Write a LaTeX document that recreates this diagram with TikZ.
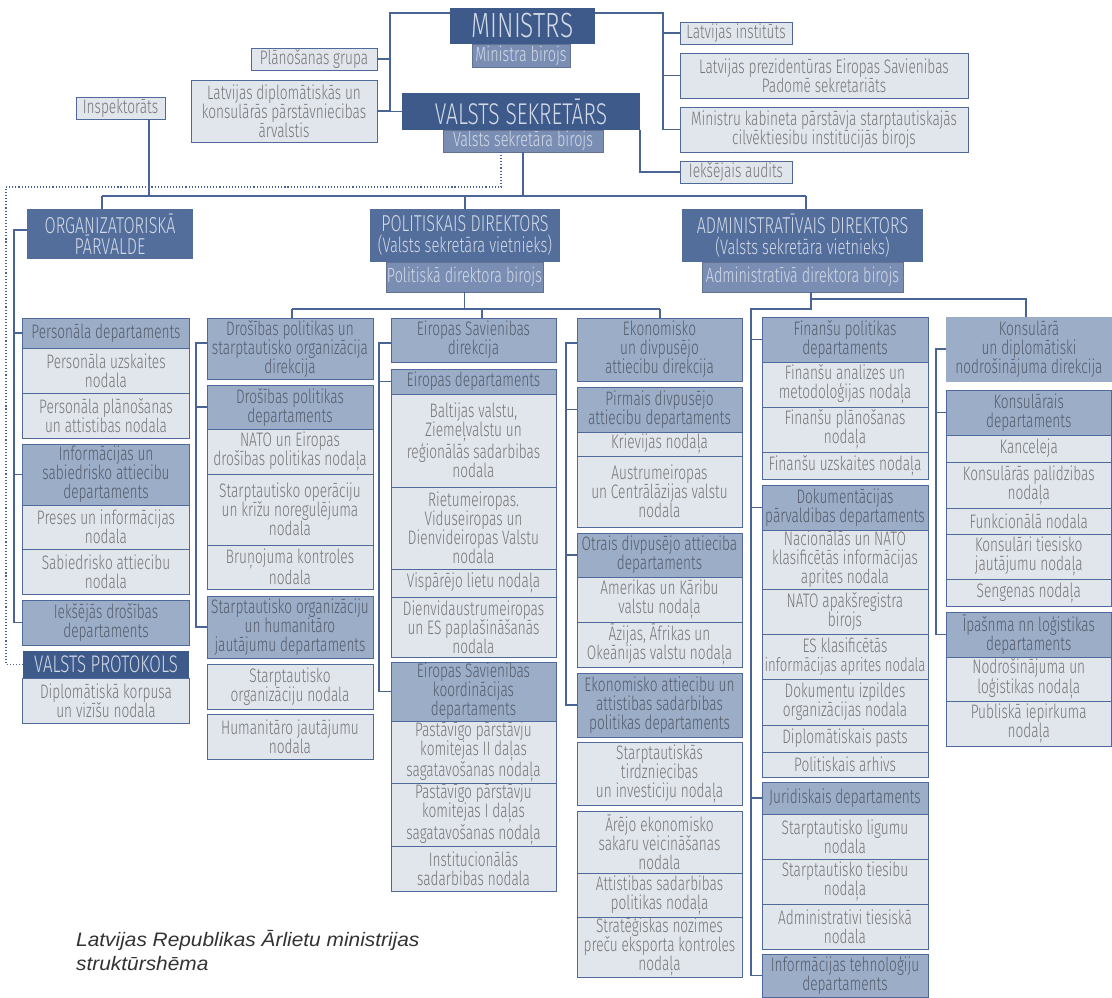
\documentclass[tikz,border=0pt]{standalone}
\usepackage{fontspec}
\IfFontExistsTF{Fira Sans Light}{\setmainfont{Fira Sans Light}[FakeStretch=0.70]}{\setmainfont{Liberation Sans}[FakeStretch=0.72]}
\newfontfamily\capfont{Liberation Sans}[FakeStretch=1.07]
\usetikzlibrary{calc}
\definecolor{dkblue}{HTML}{3E5A8A}
\definecolor{dirblue}{HTML}{536E9B}
\definecolor{birblue}{HTML}{7A8EB4}
\definecolor{depblue}{HTML}{9CADC8}
\definecolor{unitfill}{HTML}{E1E5EC}
\definecolor{bordc}{HTML}{4F6A9A}
\definecolor{linec}{HTML}{4A6595}
\definecolor{unittext}{HTML}{767676}
\definecolor{deptext}{HTML}{545C6A}
\definecolor{lighttext}{HTML}{D3DAE7}
\definecolor{captext}{HTML}{333333}
\tikzset{
 box/.style={rectangle,inner sep=0pt,outer sep=0pt,align=center,line width=1bp,font=\fontsize{19.5bp}{19bp}\selectfont},
 unit/.style={box,fill=unitfill,draw=bordc,text=unittext},
 dept/.style={box,fill=depblue,draw=bordc,text=deptext},
 deptnb/.style={box,fill=depblue,text=deptext},
 biro/.style={box,fill=birblue,draw=birblue!80!black,text=lighttext,font=\fontsize{20.5bp}{20bp}\selectfont},
 dark/.style={box,fill=dkblue,text=lighttext},
 dirbox/.style={box,fill=dirblue,text=lighttext,font=\fontsize{23bp}{21bp}\selectfont},
 conn/.style={draw=linec,line width=1.3bp},
 dotl/.style={draw=linec,line width=1.1bp,dotted},
}
\newcommand\bx[7]{%
 \pgfmathsetmacro\bxw{#5-(#3)}\pgfmathsetmacro\bxh{#6-(#4)}%
 \node[#1,minimum width=\bxw bp,minimum height=\bxh bp] (#2) at ({(#3+#5)/2},{(#4+#6)/2}) {#7};}
\newcommand\subl[1]{{\fontsize{21bp}{21bp}\selectfont #1}}
\begin{document}
\begin{tikzpicture}[x=1bp,y=-1bp]
\fill[white] (0,0) rectangle (1112,998);
\useasboundingbox (0,0) rectangle (1112,998);
% ---------- top ----------
\bx{dark,font=\fontsize{35bp}{35bp}\selectfont}{ministrs}{450}{8}{595}{44}{MINISTRS}
\bx{biro}{mb}{472}{44}{570}{67}{Ministra birojs}
\bx{unit}{plan}{251}{48}{377}{70}{Plānošanas grupa}
\bx{unit}{latdip}{191}{80}{377}{142}{Latvijas diplomātiskās un\\konsulārās pārstāvniecibas\\ārvalstis}
\bx{dark,font=\fontsize{30bp}{30bp}\selectfont}{vs}{402}{93}{640}{130}{VALSTS SEKRETĀRS}
\bx{biro}{vsb}{443}{130}{603}{152}{Valsts sekretāra birojs}
\bx{unit}{insp}{76}{97}{165}{119}{Inspektorāts}
\bx{unit}{latinst}{680}{22}{792}{44}{Latvijas institūts}
\bx{unit}{prez}{680}{53}{968}{98}{Latvijas prezidentūras Eiropas Savienibas\\Padomē sekretariāts}
\bx{unit}{mk}{680}{107}{968}{152}{Ministru kabineta pārstāvja starptautiskajās\\cilvēktiesibu institūcijās birojs}
\bx{unit}{audits}{680}{161}{792}{183}{Iekšējais audits}
% ---------- directors ----------
\bx{dirbox}{org}{27}{209}{193}{259}{ORGANIZATORISKĀ\\PĀRVALDE}
\bx{dirbox}{pol}{370}{209}{560}{262}{POLITISKAIS DIREKTORS\\\subl{(Valsts sekretāra vietnieks)}}
\bx{biro}{pb}{386}{262}{543}{292}{Politiskā direktora birojs}
\bx{dirbox}{adm}{682}{209}{923}{262}{ADMINISTRATĪVAIS DIREKTORS\\\subl{(Valsts sekretāra vietnieks)}}
\bx{biro}{ab}{702}{262}{903}{292}{Administratīvā direktora birojs}
% ---------- column 1 ----------
\bx{dept}{c1a}{23}{318}{189}{348}{Personāla departaments}
\bx{unit}{c1b}{23}{348}{189}{393}{Personāla uzskaites\\nodala}
\bx{unit}{c1c}{23}{393}{189}{438}{Personāla plānošanas\\un attistibas nodala}
\bx{dept}{c1d}{23}{444}{189}{505}{Informācijas un\\sabiedrisko attiecibu\\departaments}
\bx{unit}{c1e}{23}{505}{189}{549}{Preses un informācijas\\nodala}
\bx{unit}{c1f}{23}{549}{189}{594}{Sabiedrisko attiecibu\\nodala}
\bx{dept}{c1g}{23}{600}{189}{645}{Iekšējās drošības\\departaments}
\bx{dark,font=\fontsize{24bp}{24bp}\selectfont}{vp}{23}{651}{189}{678}{VALSTS PROTOKOLS}
\bx{unit}{c1h}{23}{678}{189}{723}{Diplomātiskā korpusa\\un vizīšu nodala}
% ---------- column 2 ----------
\bx{dept}{c2a}{207}{318}{373}{379}{Drošības politikas un\\starptautisko organizācija\\direkcija}
\bx{dept}{c2b}{207}{385}{373}{429}{Drošības politikas\\departaments}
\bx{unit}{c2c}{207}{429}{373}{474}{NATO un Eiropas\\drošības politikas nodaļa}
\bx{unit}{c2d}{207}{474}{373}{545}{Starptautisko operāciju\\un krīžu noregulējuma\\nodala}
\bx{unit}{c2e}{207}{545}{373}{589}{Bruņojuma kontroles\\nodala}
\bx{dept}{c2f}{207}{596}{373}{658}{Starptautisko organizāciju\\un humanitāro\\jautājumu departaments}
\bx{unit}{c2g}{207}{664}{373}{709}{Starptautisko\\organizāciju nodala}
\bx{unit}{c2h}{207}{714}{373}{759}{Humanitāro jautājumu\\nodala}
% ---------- column 3 ----------
\bx{dept}{c3a}{391}{318}{556}{362}{Eiropas Savienibas\\direkcija}
\bx{dept}{c3b}{391}{369}{556}{394}{Eiropas departaments}
\bx{unit}{c3c}{391}{394}{556}{487}{Baltijas valstu,\\Ziemeļvalstu un\\reģionālās sadarbibas\\nodala}
\bx{unit}{c3d}{391}{487}{556}{569}{Rietumeiropas.\\Viduseiropas un\\Dienvideiropas Valstu\\nodala}
\bx{unit}{c3e}{391}{569}{556}{597}{Vispārējo lietu nodaļa}
\bx{unit}{c3f}{391}{597}{556}{657}{Dienvidaustrumeiropas\\un ES paplašināšanās\\nodala}
\bx{dept}{c3g}{391}{662}{556}{721}{Eiropas Savienibas\\koordinācijas\\departaments}
\bx{unit}{c3h}{391}{721}{556}{783}{Pastāvīgo pārstāvju\\komitejas II daļas\\sagatavošanas nodaļa}
\bx{unit}{c3i}{391}{783}{556}{846}{Pastāvīgo pārstāvju\\komitejas I daļas\\sagatavošanas nodaļa}
\bx{unit}{c3j}{391}{846}{556}{891}{Institucionālās\\sadarbibas nodala}
% ---------- column 4 ----------
\bx{dept}{c4a}{577}{318}{742}{381}{Ekonomisko\\un divpusējo\\attiecibu direkcija}
\bx{dept}{c4b}{577}{387}{742}{432}{Pirmais divpusējo\\attiecibu departaments}
\bx{unit}{c4c}{577}{432}{742}{456}{Krievijas nodaļa}
\bx{unit}{c4d}{577}{456}{742}{527}{Austrumeiropas\\un Centrālāzijas valstu\\nodala}
\bx{dept}{c4e}{577}{533}{742}{577}{Otrais divpusējo attieciba\\departaments}
\bx{unit}{c4f}{577}{577}{742}{622}{Amerikas un Kāribu\\valstu nodaļa}
\bx{unit}{c4g}{577}{622}{742}{667}{Āzijas, Āfrikas un\\Okeānijas valstu nodaļa}
\bx{dept}{c4h}{577}{673}{742}{737}{Ekonomisko attiecibu un\\attistibas sadarbibas\\politikas departaments}
\bx{unit}{c4i}{577}{742}{742}{805}{Starptautiskās\\tirdzniecibas\\un investiciju nodaļa}
\bx{unit}{c4j}{577}{811}{742}{873}{Ārējo ekonomisko\\sakaru veicināšanas\\nodala}
\bx{unit}{c4k}{577}{873}{742}{917}{Attistibas sadarbibas\\politikas nodaļa}
\bx{unit}{c4l}{577}{917}{742}{977}{Stratēģiskas nozimes\\preču eksporta kontroles\\nodaļa}
% ---------- column 5 ----------
\bx{dept}{c5a}{762}{317}{928}{362}{Finanšu politikas\\departaments}
\bx{unit}{c5b}{762}{362}{928}{407}{Finanšu analizes un\\metodoloģijas nodaļa}
\bx{unit}{c5c}{762}{407}{928}{452}{Finanšu plānošanas\\nodaļa}
\bx{unit}{c5d}{762}{452}{928}{479}{Finanšu uzskaites nodaļa}
\bx{dept}{c5e}{762}{485}{928}{530}{Dokumentācijas\\pārvaldibas departaments}
\bx{unit}{c5f}{762}{530}{928}{589}{Nacionālās un NATO\\klasificētās informācijas\\aprites nodala}
\bx{unit}{c5g}{762}{589}{928}{634}{NATO apakšregistra\\birojs}
\bx{unit}{c5h}{762}{634}{928}{679}{ES klasificētās\\{\fontsize{18.8bp}{19bp}\selectfont informācijas aprites nodala}}
\bx{unit}{c5i}{762}{679}{928}{725}{Dokumentu izpildes\\organizācijas nodala}
\bx{unit}{c5j}{762}{725}{928}{752}{Diplomātiskais pasts}
\bx{unit}{c5k}{762}{752}{928}{777}{Politiskais arhivs}
\bx{dept}{c5l}{762}{782}{928}{814}{Juridiskais departaments}
\bx{unit}{c5m}{762}{814}{928}{859}{Starptautisko ligumu\\nodala}
\bx{unit}{c5n}{762}{859}{928}{904}{Starptautisko tiesibu\\nodaļa}
\bx{unit}{c5o}{762}{904}{928}{949}{Administrativi tiesiskā\\nodala}
\bx{dept}{c5p}{762}{954}{928}{997}{Informācijas tehnoloģiju\\departaments}
% ---------- column 6 ----------
\bx{deptnb}{c6a}{946}{317}{1112}{382}{Konsulārā\\un diplomātiski\\nodrošinājuma direkcija}
\bx{dept}{c6b}{946}{390}{1111.5}{435}{Konsulārais\\departaments}
\bx{unit}{c6c}{946}{435}{1111.5}{462}{Kanceleja}
\bx{unit}{c6d}{946}{462}{1111.5}{508}{Konsulārās palidzibas\\nodaļa}
\bx{unit}{c6e}{946}{508}{1111.5}{534}{Funkcionālā nodala}
\bx{unit}{c6f}{946}{534}{1111.5}{579}{Konsulāri tiesisko\\jautājumu nodaļa}
\bx{unit}{c6g}{946}{579}{1111.5}{606}{Sengenas nodaļa}
\bx{dept}{c6h}{946}{612}{1111.5}{657}{Īpašnma nn loģistikas\\departaments}
\bx{unit}{c6i}{946}{657}{1111.5}{701}{Nodrošinājuma un\\loģistikas nodaļa}
\bx{unit}{c6j}{946}{701}{1111.5}{746}{Publiskā iepirkuma\\nodaļa}
% ---------- caption ----------
\node[anchor=north west,align=left,inner sep=0pt,text=captext,font=\capfont\itshape\fontsize{19.5bp}{24bp}\selectfont] (cap) at (76,930) {Latvijas Republikas Ārlietu ministrijas\\struktūrshēma};
% ---------- coordinates ----------
\coordinate (mL) at (390,13);
\coordinate (mR) at (663,13);
\coordinate (ht) at (102,196);
\coordinate (ht2) at (806,196);
\coordinate (ic) at (149,196);
\coordinate (d1) at (501,187);
\coordinate (d2) at (6,187);
\coordinate (s1) at (14,230);
\coordinate (pj) at (465,309);
\coordinate (p1) at (292,309);
\coordinate (p2) at (660,309);
\coordinate (p3) at (482,309);
\coordinate (s2) at (196,343);
\coordinate (s3) at (379,343);
\coordinate (s4) at (566,343);
\coordinate (a1) at (811,299);
\coordinate (a2) at (811,309);
\coordinate (a3) at (751,309);
\coordinate (a4) at (1026,299);
\coordinate (s6) at (936,349);
% ---------- connectors ----------
\draw[conn] (ministrs.west |- mL) -- (mL) |- (vs.west);
\draw[conn] (mL |- plan.east) -- (plan.east);
\draw[conn] (latdip.east) -- (mL |- latdip.east);
\draw[conn] (ministrs.east |- mR) -- (mR) |- (mk.west);
\draw[conn] (mR |- latinst.west) -- (latinst.west);
\draw[conn] (mR |- prez.west) -- (prez.west);
\draw[conn] (vs.south east) |- (audits.west);
\draw[conn] (vsb.south) -- (vsb.south |- ht);
\draw[conn] (ht) -- (ht2);
\draw[conn] (ht) -- (ht |- org.north);
\draw[conn] (ht2) -- (ht2 |- adm.north);
\draw[conn] (pol.north |- ht) -- (pol.north);
\draw[conn] (ic |- insp.south) -- (ic);
\draw[dotl] (d1 |- vsb.south) -- (d1) -- (d2) |- (vp.west);
% column 1
\draw[conn] (org.west |- s1) -- (s1) |- (c1g.west);
\draw[conn] (s1 |- c1a.west) -- (c1a.west);
\draw[conn] (s1 |- c1d.west) -- (c1d.west);
% political
\draw[conn] (pb.south) -- (pb.south |- pj);
\draw[conn] (p1) -- (p2);
\draw[conn] (p1) -- (p1 |- c2a.north);
\draw[conn] (p3) -- (p3 |- c3a.north);
\draw[conn] (p2) -- (p2 |- c4a.north);
\draw[conn] (c2a.west |- s2) -- (s2) |- (c2f.west);
\draw[conn] (s2 |- c2b.west) -- (c2b.west);
\draw[conn] (c3a.west |- s3) -- (s3) |- (c3g.west);
\draw[conn] (s3 |- c3b.west) -- (c3b.west);
\draw[conn] (c4a.west |- s4) -- (s4) |- (c4h.west);
\draw[conn] (s4 |- c4b.west) -- (c4b.west);
\draw[conn] (s4 |- c4e.west) -- (c4e.west);
% administrative
\draw[conn] (a1 |- ab.south) -- (a2) -- (a3) |- (c5p.west);
\draw[conn] (a3 |- c5a.west) -- (c5a.west);
\draw[conn] (a3 |- c5e.west) -- (c5e.west);
\draw[conn] (a3 |- c5l.west) -- (c5l.west);
\draw[conn] (a1) -- (a4) -- (a4 |- c6a.north);
\draw[conn] (c6a.west |- s6) -- (s6) |- (c6h.west);
\draw[conn] (s6 |- c6b.west) -- (c6b.west);
\end{tikzpicture}
\end{document}
